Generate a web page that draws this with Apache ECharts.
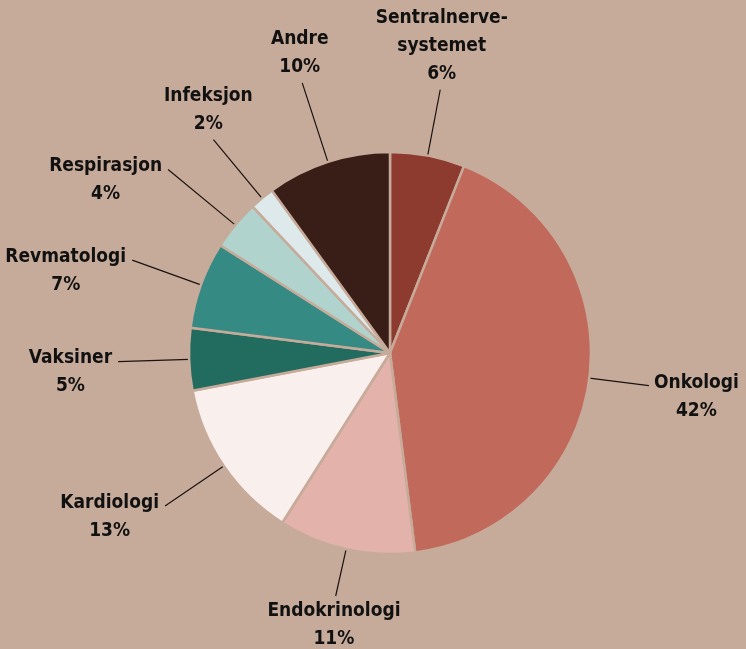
<!DOCTYPE html>
<html>
<head>
<meta charset="utf-8">
<script src="https://cdn.jsdelivr.net/npm/echarts@6/dist/echarts.min.js"></script>
<style>
  html, body { margin: 0; padding: 0; background: #c7ab9a; }
  #chart { width: 746px; height: 649px; }
</style>
</head>
<body>
<div id="chart"></div>
<script>
const categories = ['Sentralnerve-\nsystemet', 'Onkologi', 'Endokrinologi', 'Kardiologi',
  'Vaksiner', 'Revmatologi', 'Respirasjon', 'Infeksjon', 'Andre']
const shares = [6, 42, 11, 13, 5, 7, 4, 2, 10]
const colors = ['#8d3a2f', '#c1695a', '#e3b2aa', '#f9efed', '#226b5f',
  '#368a84', '#b1d3cd', '#dee9eb', '#391e18']
const lineLengths = [67, 60, 48, 71, 71, 73, 87, 76, 83]

const bg = '#c7ab9a'
const LINE_H = 28

const chart = echarts.init(document.getElementById('chart'))

// place each label at the outer end of its leader line
const placeLabel = (params) => {
  const pts = params.labelLinePoints
  if (!pts) return {}
  const p0 = pts[0], p1 = pts[1]
  let ux = p1[0] - p0[0], uy = p1[1] - p0[1]
  const len = Math.hypot(ux, uy) || 1
  ux /= len; uy /= len
  const w = params.labelRect.width, h = params.labelRect.height
  let cx, cy
  if (Math.abs(uy) > Math.abs(ux)) {
    cx = p1[0] + ux * 8
    cy = uy < 0 ? p1[1] - 2 - h / 2 : p1[1] + 1 + h / 2
  } else {
    cx = ux < 0 ? p1[0] - 6 - w / 2 : p1[0] + 5 + w / 2
    cy = p1[1] + 11
  }
  return {
    x: cx, y: cy, align: 'center', verticalAlign: 'middle',
    labelLinePoints: [p0, p1, p1]
  }
}

chart.setOption({
  backgroundColor: bg,
  animation: false,
  series: [{
    type: 'pie',
    center: [390, 353],
    radius: 201,
    startAngle: 90,
    clockwise: true,
    avoidLabelOverlap: false,
    itemStyle: { borderColor: bg, borderWidth: 2.5 },
    label: {
      formatter: '{b}\n{c}%',
      color: '#111',
      fontFamily: '"DejaVu Sans Condensed", "DejaVu Sans"',
      fontWeight: 'bold condensed',
      fontSize: 19,
      lineHeight: LINE_H,
      align: 'center'
    },
    labelLine: { show: true, length2: 0, lineStyle: { color: '#1a1210', width: 1.2 } },
    labelLayout: placeLabel,
    data: categories.map((name, i) => ({
      name,
      value: shares[i],
      itemStyle: { color: colors[i] },
      labelLine: { length: lineLengths[i], length2: 0 }
    }))
  }]
})
</script>
</body>
</html>
